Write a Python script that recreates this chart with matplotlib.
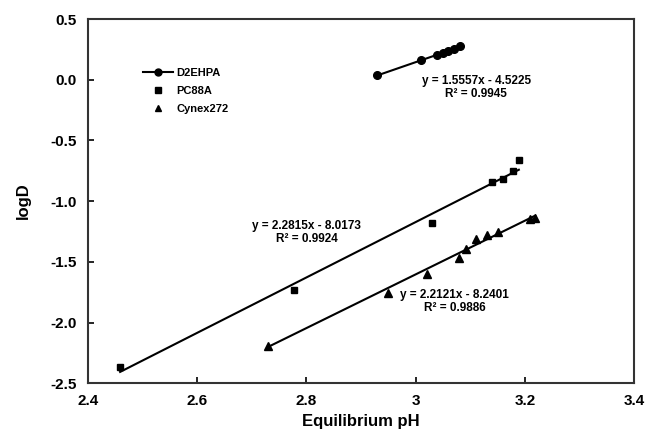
import numpy as np
import matplotlib.pyplot as plt
from matplotlib.lines import Line2D

plt.rcParams['font.family'] = ['Liberation Sans', 'DejaVu Sans']
plt.rcParams['axes.unicode_minus'] = False

# D2EHPA
ph_d2 = [2.929, 3.010, 3.040, 3.050, 3.060, 3.070, 3.081]
logd_d2 = [0.038, 0.160, 0.205, 0.222, 0.238, 0.252, 0.275]
# PC88A
ph_pc = [2.459, 2.777, 3.030, 3.140, 3.160, 3.179, 3.189]
logd_pc = [-2.369, -1.734, -1.182, -0.844, -0.819, -0.753, -0.662]
# Cynex272
ph_cy = [2.730, 2.949, 3.021, 3.080, 3.092, 3.111, 3.130, 3.151, 3.210, 3.219]
logd_cy = [-2.190, -1.759, -1.602, -1.470, -1.396, -1.314, -1.281, -1.256, -1.149, -1.141]

# trendline coefficients (slope, intercept, R2)
fit_d2 = (1.5557, -4.5225, 0.9945)
fit_pc = (2.2815, -8.0173, 0.9924)
fit_cy = (2.2121, -8.2401, 0.9886)

fig = plt.figure(figsize=(6.51, 4.43), dpi=100)
ax = fig.add_axes([0.135, 0.135, 0.839, 0.822])

def trend(xs, fit):
    xx = np.array([min(xs), max(xs)])
    ax.plot(xx, fit[0] * xx + fit[1], color='black', lw=1.5, zorder=2)

trend(ph_d2, fit_d2)
trend(ph_pc, fit_pc)
trend(ph_cy, fit_cy)

ax.plot(ph_d2, logd_d2, 'o', color='black', ms=5.5, zorder=3)
ax.plot(ph_pc, logd_pc, 's', color='black', ms=5, zorder=3)
ax.plot(ph_cy, logd_cy, '^', color='black', ms=5.5, zorder=3)

def eq_text(x, y, fit):
    ax.text(x, y, 'y = %.4fx - %.4f\nR² = %.4f' % (fit[0], -fit[1], fit[2]),
            ha='center', va='center', fontsize=8.5, fontweight='bold',
            linespacing=1.15)

eq_text(3.111, -0.065, fit_d2)
eq_text(2.801, -1.256, fit_pc)
eq_text(3.072, -1.825, fit_cy)

handles = [Line2D([], [], color='black', marker='o', lw=1.5, ms=5),
           Line2D([], [], color='black', marker='s', lw=0, ms=4.5),
           Line2D([], [], color='black', marker='^', lw=0, ms=5)]
ax.legend(handles, ['D2EHPA', 'PC88A', 'Cynex272'], loc='upper left',
          bbox_to_anchor=(0.093, 0.879), frameon=False, handlelength=2.7,
          handletextpad=0.3, borderaxespad=0,
          prop={'weight': 'bold', 'size': 8}, labelspacing=0.75)

ax.set_xlim(2.4, 3.4)
ax.set_ylim(-2.5, 0.5)
ax.set_xticks([2.4, 2.6, 2.8, 3.0, 3.2, 3.4])
ax.set_xticklabels(['2.4', '2.6', '2.8', '3', '3.2', '3.4'])
ax.set_yticks([-2.5, -2.0, -1.5, -1.0, -0.5, 0.0, 0.5])
ax.tick_params(direction='in', length=4, width=1.2, labelsize=11, pad=8)
for lab in ax.get_xticklabels() + ax.get_yticklabels():
    lab.set_fontweight('bold')
for s in ax.spines.values():
    s.set_linewidth(1.5)
    s.set_color('#333333')

ax.set_xlabel('Equilibrium pH', fontsize=12, fontweight='bold', labelpad=4)
ax.set_ylabel('logD', fontsize=12, fontweight='bold', labelpad=14)

fig.savefig('out.png', dpi=100)
